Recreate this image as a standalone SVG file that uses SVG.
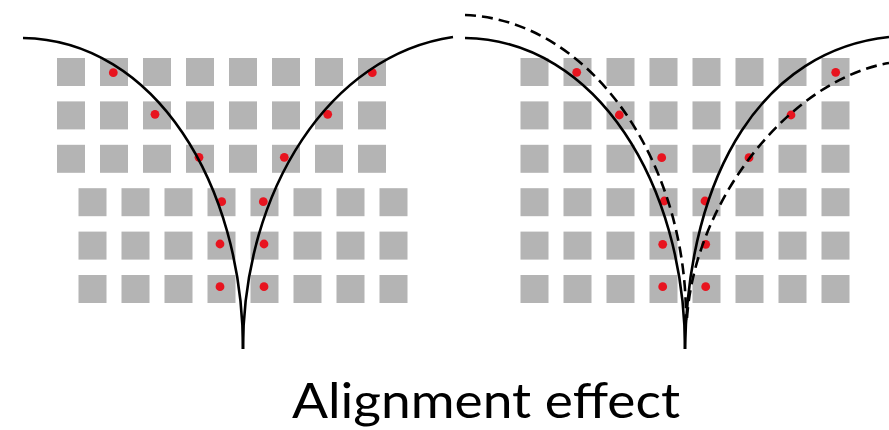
<svg xmlns="http://www.w3.org/2000/svg" xmlns:xlink="http://www.w3.org/1999/xlink" width="889" height="430" viewBox="0 0 889 430">
<style>
.sq{fill:#b4b4b4}
.dot{fill:#e8141f}
.ln{fill:none;stroke:#000;stroke-width:2.6;stroke-linecap:butt}
.ds{fill:none;stroke:#000;stroke-width:2.6;stroke-dasharray:11 6}
.lbl{font-family:Lato,"Liberation Sans",sans-serif;font-size:48px;fill:#000}
</style>
<defs>
<g id="row">
<rect class="sq" x="0" y="0" width="28" height="28"/>
<rect class="sq" x="43" y="0" width="28" height="28"/>
<rect class="sq" x="86" y="0" width="28" height="28"/>
<rect class="sq" x="129" y="0" width="28" height="28"/>
<rect class="sq" x="172" y="0" width="28" height="28"/>
<rect class="sq" x="215" y="0" width="28" height="28"/>
<rect class="sq" x="258" y="0" width="28" height="28"/>
<rect class="sq" x="301" y="0" width="28" height="28"/>
</g>
</defs>
<rect width="889" height="430" fill="#fff"/>
<g id="left-panel">
<use xlink:href="#row" x="57" y="58"/>
<use xlink:href="#row" x="57" y="101.4"/>
<use xlink:href="#row" x="57" y="144.8"/>
<use xlink:href="#row" x="78.5" y="188.2"/>
<use xlink:href="#row" x="78.5" y="231.6"/>
<use xlink:href="#row" x="78.5" y="275"/>
<circle class="dot" cx="113.3" cy="72.7" r="4.4"/>
<circle class="dot" cx="372.3" cy="72.7" r="4.4"/>
<circle class="dot" cx="155" cy="114.3" r="4.4"/>
<circle class="dot" cx="327.7" cy="114.3" r="4.4"/>
<circle class="dot" cx="199" cy="157.3" r="4.4"/>
<circle class="dot" cx="284.3" cy="157.3" r="4.4"/>
<circle class="dot" cx="221.7" cy="201.7" r="4.4"/>
<circle class="dot" cx="263.3" cy="201.7" r="4.4"/>
<circle class="dot" cx="220" cy="244" r="4.4"/>
<circle class="dot" cx="264" cy="244" r="4.4"/>
<circle class="dot" cx="220" cy="286.7" r="4.4"/>
<circle class="dot" cx="264" cy="286.7" r="4.4"/>
</g>
<g id="right-panel">
<use xlink:href="#row" x="520.5" y="58"/>
<use xlink:href="#row" x="520.5" y="101.4"/>
<use xlink:href="#row" x="520.5" y="144.8"/>
<use xlink:href="#row" x="520.5" y="188.2"/>
<use xlink:href="#row" x="520.5" y="231.6"/>
<use xlink:href="#row" x="520.5" y="275"/>
<circle class="dot" cx="576.7" cy="72.3" r="4.4"/>
<circle class="dot" cx="835.7" cy="72.3" r="4.4"/>
<circle class="dot" cx="619.3" cy="115" r="4.4"/>
<circle class="dot" cx="791" cy="115" r="4.4"/>
<circle class="dot" cx="661.7" cy="157.7" r="4.4"/>
<circle class="dot" cx="749" cy="157.7" r="4.4"/>
<circle class="dot" cx="664.3" cy="201" r="4.4"/>
<circle class="dot" cx="705" cy="201" r="4.4"/>
<circle class="dot" cx="662.7" cy="244.3" r="4.4"/>
<circle class="dot" cx="705.7" cy="244.3" r="4.4"/>
<circle class="dot" cx="662.7" cy="286.7" r="4.4"/>
<circle class="dot" cx="705.7" cy="286.7" r="4.4"/>
</g>
<g id="curves">
<path class="ln" d="M 23 38 C 155 40, 243 185, 243 349"/>
<path class="ln" d="M 243 349 C 243 190, 330 55, 453 37"/>
<path class="ln" d="M 465 38 C 597 40, 685 185, 685 349"/>
<path class="ln" d="M 685 349 C 688 170, 765 50, 889 37"/>
<path class="ds" d="M 465 15 C 590 20, 687 160, 686 320"/>
<path class="ds" d="M 687 318 C 695 200, 790 80, 889 63"/>
</g>
<text class="lbl" x="292" y="418" textLength="388" lengthAdjust="spacingAndGlyphs">Alignment effect</text>
</svg>
